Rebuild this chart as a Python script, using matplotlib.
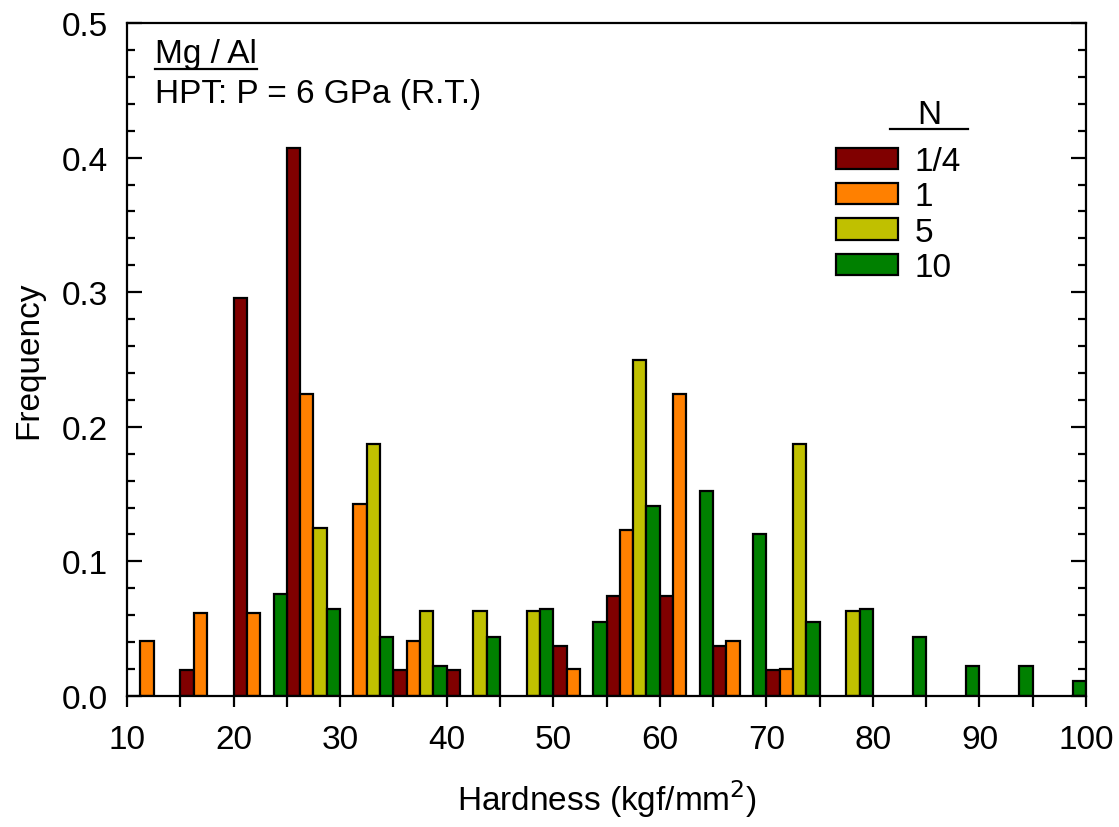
import matplotlib
matplotlib.use("Agg")
import matplotlib.pyplot as plt
import numpy as np
from matplotlib.lines import Line2D
from matplotlib.ticker import MultipleLocator

plt.rcParams['font.family'] = ['Liberation Sans', 'DejaVu Sans']

bin_starts = [10, 15, 20, 25, 30, 35, 40, 45, 50, 55, 60, 65, 70, 75, 80, 85, 90, 95]
series_labels = ["1/4", "1", "5", "10"]
n_quarter = [0, 0.019, 0.296, 0.407, 0, 0.019, 0.019, 0, 0.037, 0.074, 0.074, 0.037, 0.019, 0, 0, 0, 0, 0]
n_one     = [0.041, 0.062, 0.062, 0.224, 0.143, 0.041, 0, 0, 0.020, 0.123, 0.224, 0.041, 0.020, 0, 0, 0, 0, 0]
n_five    = [0, 0, 0, 0.125, 0.187, 0.063, 0.063, 0.063, 0, 0.250, 0, 0, 0.187, 0.063, 0, 0, 0, 0]
n_ten     = [0, 0, 0.076, 0.065, 0.044, 0.022, 0.044, 0.065, 0.055, 0.141, 0.152, 0.120, 0.055, 0.065, 0.044, 0.022, 0.022, 0.011]
colors = ["#800000", "#FF8000", "#C0C000", "#008000"]

FS = 24
fig = plt.figure(figsize=(11.19, 8.28), dpi=100)
ax = fig.add_axes([127/1119, 1-697/828, (1086-127)/1119, (697-24)/828])

bw = 1.25
starts = np.array(bin_starts, dtype=float)
handles = []
for i, (vals, c, lab) in enumerate(zip([n_quarter, n_one, n_five, n_ten], colors, series_labels)):
    v = np.array(vals)
    m = v > 0
    ax.bar(starts[m] + i * bw, v[m], width=bw, align='edge', color=c,
           edgecolor='black', linewidth=1.6)
    handles.append(plt.Rectangle((0, 0), 1, 1, facecolor=c, edgecolor='black', linewidth=1.6))

ax.set_xlim(10, 100)
ax.set_ylim(0, 0.5)
ax.xaxis.set_major_locator(MultipleLocator(10))
ax.xaxis.set_minor_locator(MultipleLocator(5))
ax.yaxis.set_major_locator(MultipleLocator(0.1))
ax.yaxis.set_minor_locator(MultipleLocator(0.02))
ax.yaxis.set_major_formatter(matplotlib.ticker.FormatStrFormatter('%.1f'))

for s in ax.spines.values():
    s.set_linewidth(1.6)
ax.tick_params(axis='x', which='both', direction='out', top=False, labelsize=FS, width=1.6, pad=12)
ax.tick_params(axis='x', which='major', length=8)
ax.tick_params(axis='x', which='minor', length=8)
ax.tick_params(axis='y', which='both', direction='in', left=True, right=True, labelsize=FS, width=1.6, pad=14)
ax.tick_params(axis='y', which='major', length=11)
ax.tick_params(axis='y', which='minor', length=6)

ax.set_xlabel("Hardness (kgf/mm$^2$)", fontsize=FS, labelpad=16)
ax.set_ylabel("Frequency", fontsize=FS, labelpad=12)

# Annotation text
t1 = ax.text((155-127)/959, (697-63)/673, "Mg / Al", transform=ax.transAxes,
             fontsize=FS, va='baseline')
ax.text((155-127)/959, (697-103)/673, "HPT: P = 6 GPa (R.T.)", transform=ax.transAxes,
        fontsize=FS, va='baseline')

# Legend
leg = ax.legend(handles, series_labels, loc='upper left',
                bbox_to_anchor=((836-127)/959, (697-147)/673), frameon=False,
                fontsize=FS, handlelength=1.85, handleheight=0.6, handletextpad=0.5,
                labelspacing=0.13, borderpad=0, borderaxespad=0)
ax.text((929-127)/959, (697-124)/673, "N", transform=ax.transAxes, fontsize=FS,
        ha='center', va='baseline')
ax.add_line(Line2D([(890-127)/959, (968-127)/959], [(697-130)/673]*2,
                   transform=ax.transAxes, color='black', linewidth=1.6, clip_on=False))

# underline for Mg / Al
fig.canvas.draw()
r = fig.canvas.get_renderer()
bb = t1.get_window_extent(renderer=r)
inv = ax.transAxes.inverted()
(x0, _), (x1, _) = inv.transform([(bb.x0, 0), (bb.x1, 0)])
yline = (697-70)/673
ax.add_line(Line2D([x0, x1], [yline, yline], transform=ax.transAxes,
                   color='black', linewidth=1.6, clip_on=False))

fig.savefig("out.png", dpi=100, facecolor='white')
